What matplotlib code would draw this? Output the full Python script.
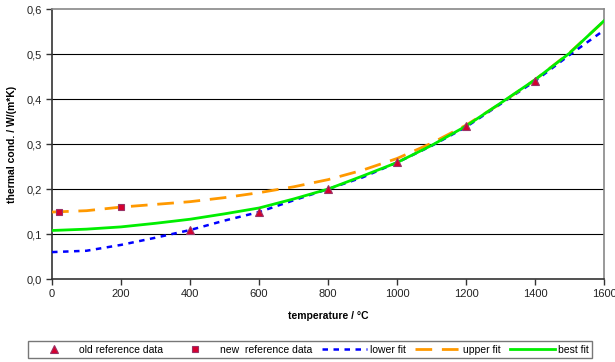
import matplotlib
matplotlib.use('Agg')
import matplotlib.pyplot as plt

plt.rcParams['font.family'] = ['Liberation Sans', 'DejaVu Sans']

# fit curves, sampled every 100 °C
temp = [0, 100, 200, 300, 400, 500, 600, 700, 800, 900, 1000, 1100, 1200, 1300, 1400, 1500, 1600]
lower_fit = [0.060, 0.063, 0.076, 0.092, 0.109, 0.130, 0.149, 0.175, 0.200, 0.226, 0.259,
             0.296, 0.338, 0.389, 0.440, 0.498, 0.553]
upper_fit = [0.149, 0.152, 0.160, 0.166, 0.172, 0.181, 0.192, 0.205, 0.221, 0.242, 0.268,
             0.302, 0.342, 0.390, 0.443, 0.503, 0.573]
best_fit = [0.108, 0.111, 0.116, 0.124, 0.133, 0.145, 0.158, 0.178, 0.200, 0.229, 0.259,
            0.297, 0.340, 0.391, 0.443, 0.502, 0.574]

# measured data
old_temp = [400, 600, 800, 1000, 1200, 1400]
old_k = [0.11, 0.15, 0.20, 0.26, 0.34, 0.44]
new_temp = [20, 200]
new_k = [0.15, 0.16]

fig = plt.figure(figsize=(6.15, 3.62), dpi=100)
ax = fig.add_axes([0.0846, 0.229, 0.8976, 0.746])

for yv in [0.1, 0.2, 0.3, 0.4, 0.5]:
    ax.axhline(yv, color='black', lw=0.8, zorder=1)

h_old, = ax.plot(old_temp, old_k, ls='none', marker='^', ms=6, mfc='#d6002f', mec='#993366',
                 mew=0.8, zorder=5, label='old reference data')
h_new, = ax.plot(new_temp, new_k, ls='none', marker='s', ms=5, mfc='#d6002f', mec='#993366',
                 mew=0.8, zorder=5, label='new  reference data')
h_low, = ax.plot(temp, lower_fit, color='#0000ff', lw=1.8, dashes=(2.2, 2.2), zorder=3,
                 label='lower fit')
h_up, = ax.plot(temp, upper_fit, color='#ff9900', lw=2.0, dashes=(6, 3.5), zorder=3,
                label='upper fit')
h_best, = ax.plot(temp, best_fit, color='#00ee00', lw=2.0, zorder=4, label='best fit')

ax.set_xlim(0, 1600)
ax.set_ylim(0, 0.6)
ax.set_xticks(range(0, 1601, 200))
ax.set_yticks([0.0, 0.1, 0.2, 0.3, 0.4, 0.5, 0.6])
ax.set_yticklabels(['0,0', '0,1', '0,2', '0,3', '0,4', '0,5', '0,6'])
ax.tick_params(direction='out', length=4, width=1, labelsize=8, colors='#333333',
               labelcolor='#222222', pad=3)

for s in ['top', 'right']:
    ax.spines[s].set_color('#888888')
    ax.spines[s].set_linewidth(1.2)
for s in ['left', 'bottom']:
    ax.spines[s].set_color('#333333')
    ax.spines[s].set_linewidth(1.2)

ax.set_xlabel('temperature / °C', fontsize=7.5, fontweight='bold', labelpad=9)
ax.set_ylabel('thermal cond. / W/(m*K)', fontsize=7.5, fontweight='bold', labelpad=7)

leg = fig.legend(handles=[h_old, h_new, h_low, h_up, h_best], loc='center',
                 bbox_to_anchor=(0.504, 0.0345), ncol=5, fontsize=7.5, frameon=True,
                 fancybox=False, edgecolor='#555555', handlelength=4.3, handletextpad=0.3,
                 columnspacing=0.9, borderpad=0.35, borderaxespad=0)
leg.get_frame().set_linewidth(1.0)

fig.savefig('out.png', dpi=100)
